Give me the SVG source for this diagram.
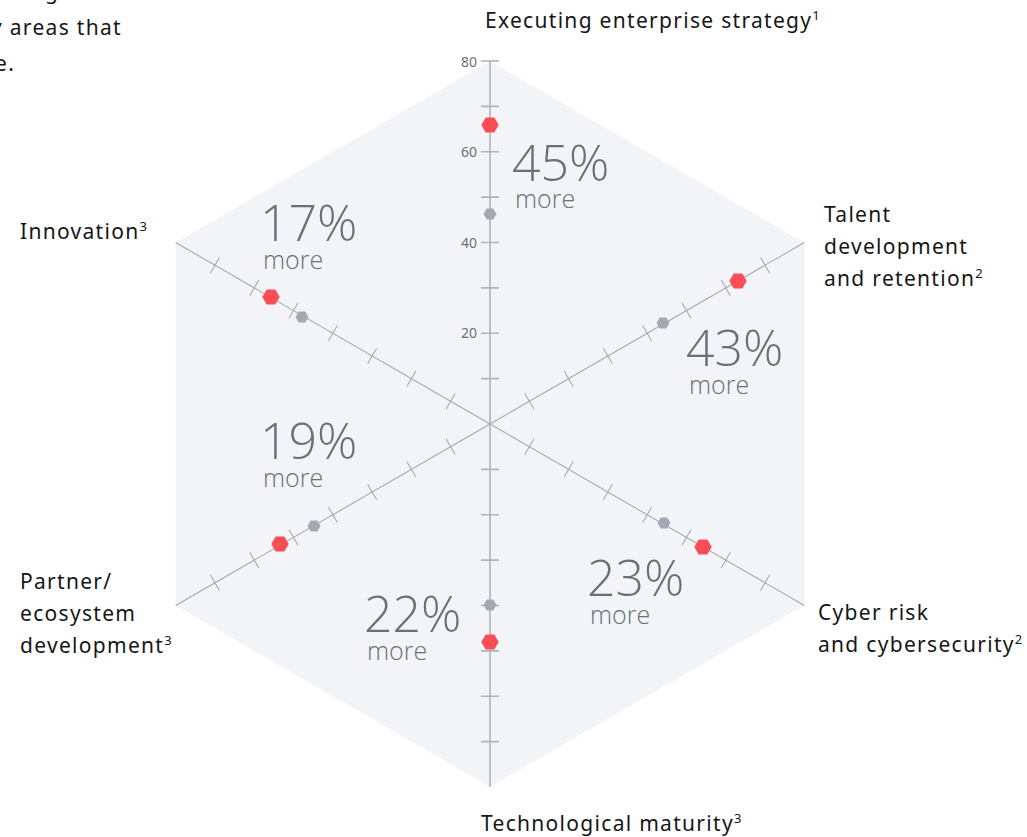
<svg xmlns="http://www.w3.org/2000/svg" width="1027" height="837" viewBox="0 0 1027 837">
<style>
.lbl{font-family:"Noto Sans","Liberation Sans",sans-serif;font-size:21px;letter-spacing:1.3px;fill:#161616}
.sup{font-size:13px;letter-spacing:0}
.big{font-family:"Open Sans","Liberation Sans",sans-serif;font-weight:300;font-size:50px;fill:#697077}
.more{font-family:"Open Sans","Liberation Sans",sans-serif;font-weight:300;font-size:25px;fill:#697077}
.tl{font-family:"Noto Sans","Liberation Sans",sans-serif;font-size:14px;fill:#697077;text-anchor:end}
.ax{stroke:#a2a5a9;stroke-width:1;fill:none}
.vax{stroke:#b0b3b8;stroke-width:1.6;fill:none}
.red{fill:#fa4d56}
.gry{fill:#a2a9b0}
</style>
<defs>
<polygon id="hr" points="-8.7,0 -4.35,-7.5 4.35,-7.5 8.7,0 4.35,7.5 -4.35,7.5"/>
<polygon id="hg" points="-6.5,0 -3.25,-5.6 3.25,-5.6 6.5,0 3.25,5.6 -3.25,5.6"/>
<g id="dticks">
<path d="M-9,-45.4H9M-9,-90.75H9M-9,-136.1H9M-9,-181.5H9M-9,-226.9H9M-9,-272.25H9M-9,-317.6H9"/>
</g>
</defs>
<rect width="1027" height="837" fill="#ffffff"/>
<g id="intro">
<text class="lbl" x="45" y="-1">g</text>
<text class="lbl" x="-9" y="35">y areas that</text>
<text class="lbl" x="-5" y="71">e.</text>
</g>
<g id="hexagon">
<polygon points="490,61 804.4,242.5 804.4,605.5 490,787 175.6,605.5 175.6,242.5" fill="#f2f4f8"/>
</g>
<g id="axes">
<g transform="translate(490,424)">
<g class="ax" transform="rotate(60)"><line x1="0" y1="0" x2="0" y2="-363"/><use href="#dticks"/></g>
<g class="ax" transform="rotate(120)"><line x1="0" y1="0" x2="0" y2="-363"/><use href="#dticks"/></g>
<g class="ax" transform="rotate(240)"><line x1="0" y1="0" x2="0" y2="-363"/><use href="#dticks"/></g>
<g class="ax" transform="rotate(300)"><line x1="0" y1="0" x2="0" y2="-363"/><use href="#dticks"/></g>
<g class="vax"><line x1="0" y1="-363" x2="0" y2="363"/><use href="#dticks"/><path d="M-9,-363H9"/></g>
<g class="vax" transform="rotate(180)"><use href="#dticks"/></g>
</g>
<text class="tl" x="477" y="67">80</text>
<text class="tl" x="477" y="157">60</text>
<text class="tl" x="477" y="248">40</text>
<text class="tl" x="477" y="338">20</text>
</g>
<g id="markers">
<use href="#hg" class="gry" x="490" y="214"/>
<use href="#hr" class="red" x="490" y="125"/>
<use href="#hg" class="gry" x="663" y="323"/>
<use href="#hr" class="red" x="738" y="281"/>
<use href="#hg" class="gry" x="664" y="523"/>
<use href="#hr" class="red" x="703" y="547"/>
<use href="#hg" class="gry" x="490" y="605"/>
<use href="#hr" class="red" x="490" y="642"/>
<use href="#hg" class="gry" x="314" y="526"/>
<use href="#hr" class="red" x="280" y="544"/>
<use href="#hg" class="gry" x="302" y="317"/>
<use href="#hr" class="red" x="271" y="297"/>
</g>
<g id="pct-strategy"><text class="big" x="512" y="181">45%</text><text class="more" x="515" y="208">more</text></g>
<g id="pct-innovation"><text class="big" x="260" y="241">17%</text><text class="more" x="263" y="269">more</text></g>
<g id="pct-talent"><text class="big" x="686" y="366">43%</text><text class="more" x="689" y="394">more</text></g>
<g id="pct-partner"><text class="big" x="260" y="459">19%</text><text class="more" x="263" y="487">more</text></g>
<g id="pct-cyber"><text class="big" x="587" y="596">23%</text><text class="more" x="590" y="624">more</text></g>
<g id="pct-tech"><text class="big" x="364" y="632">22%</text><text class="more" x="367" y="660">more</text></g>
<g id="label-strategy"><text class="lbl" x="485" y="28">Executing enterprise strategy<tspan class="sup" dy="-8">1</tspan></text></g>
<g id="label-talent">
<text class="lbl" x="824" y="222">Talent</text>
<text class="lbl" x="824" y="254">development</text>
<text class="lbl" x="824" y="286">and retention<tspan class="sup" dy="-8">2</tspan></text>
</g>
<g id="label-innovation"><text class="lbl" x="20" y="239">Innovation<tspan class="sup" dy="-8">3</tspan></text></g>
<g id="label-partner">
<text class="lbl" x="20" y="589">Partner/</text>
<text class="lbl" x="20" y="621">ecosystem</text>
<text class="lbl" x="20" y="653">development<tspan class="sup" dy="-8">3</tspan></text>
</g>
<g id="label-cyber">
<text class="lbl" x="818" y="620">Cyber risk</text>
<text class="lbl" x="818" y="652">and cybersecurity<tspan class="sup" dy="-8">2</tspan></text>
</g>
<g id="label-tech"><text class="lbl" x="481" y="831">Technological maturity<tspan class="sup" dy="-8">3</tspan></text></g>
</svg>
